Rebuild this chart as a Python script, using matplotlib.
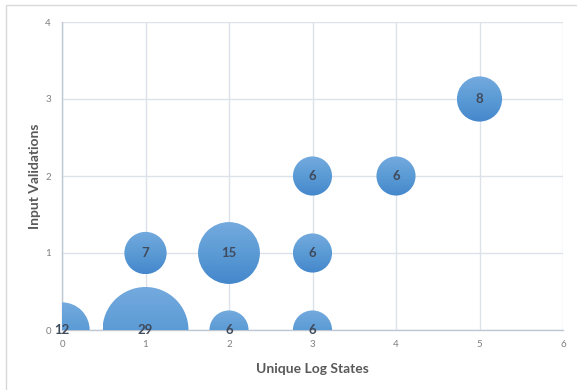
import numpy as np
import matplotlib.pyplot as plt
from matplotlib.patches import Circle, Rectangle
from matplotlib.transforms import Affine2D, ScaledTranslation
from matplotlib.colors import LinearSegmentedColormap

# bubble data
log_states = [0, 1, 1, 2, 2, 3, 3, 3, 4, 5]
input_validations = [0, 0, 1, 0, 1, 0, 1, 2, 2, 3]
counts = [12, 29, 7, 6, 15, 6, 6, 6, 6, 8]

x_ticks = [0, 1, 2, 3, 4, 5, 6]
y_ticks = [0, 1, 2, 3, 4]

plt.rcParams['font.family'] = ['Lato', 'DejaVu Sans']

fig = plt.figure(figsize=(5.77, 3.9), dpi=100)
ax = fig.add_axes([62 / 577, 60 / 390, 501 / 577, 308 / 390])
ax.set_xlim(0, 6)
ax.set_ylim(0, 4)

# outer chart border (only left/top edge fall inside the image)
fig.patches.append(Rectangle((6 / 577, -0.1), 1.2, 1.1 - 5 / 390, transform=fig.transFigure,
                             fill=False, edgecolor='#D9D9D9', linewidth=1))

grad = LinearSegmentedColormap.from_list('bub', ['#4487CC', '#5B9BD5', '#74AADE'])
gimg = np.linspace(0, 1, 100).reshape(-1, 1)

max_r = 43  # pixels for largest bubble
for x, y, c in zip(log_states, input_validations, counts):
    r = max_r * np.sqrt(c / max(counts))
    tr = Affine2D().scale(r) + ScaledTranslation(x, y, ax.transData)
    circ = Circle((0, 0), 1, transform=tr)
    im = ax.imshow(gimg, cmap=grad, origin='lower', extent=(-1, 1, -1, 1),
                   transform=tr, aspect='auto', interpolation='bilinear', zorder=3)
    im.set_clip_path(circ)
    ax.text(x, y, str(c), ha='center', va='center', fontsize=9.5, fontweight='bold',
            color='#404A5A', zorder=5, clip_on=False)

ax.set_xlim(0, 6)
ax.set_ylim(0, 4)
ax.set_xticks(x_ticks)
ax.set_yticks(y_ticks)
ax.grid(True, color='#DDE2EA', linewidth=1)
ax.set_axisbelow(True)
for s in ['top', 'right']:
    ax.spines[s].set_visible(False)
for s in ['left', 'bottom']:
    ax.spines[s].set_color('#BFC7D5')
    ax.spines[s].set_linewidth(1)
ax.tick_params(length=0, labelsize=7, colors='#7F7F7F', pad=7)
ax.tick_params(axis='y', pad=8)

ax.set_xlabel('Unique Log States', fontsize=10, fontweight='bold', color='#595959', labelpad=10)
ax.set_ylabel('Input Validations', fontsize=10, fontweight='bold', color='#595959', labelpad=3)

fig.savefig('out.png', dpi=100)
